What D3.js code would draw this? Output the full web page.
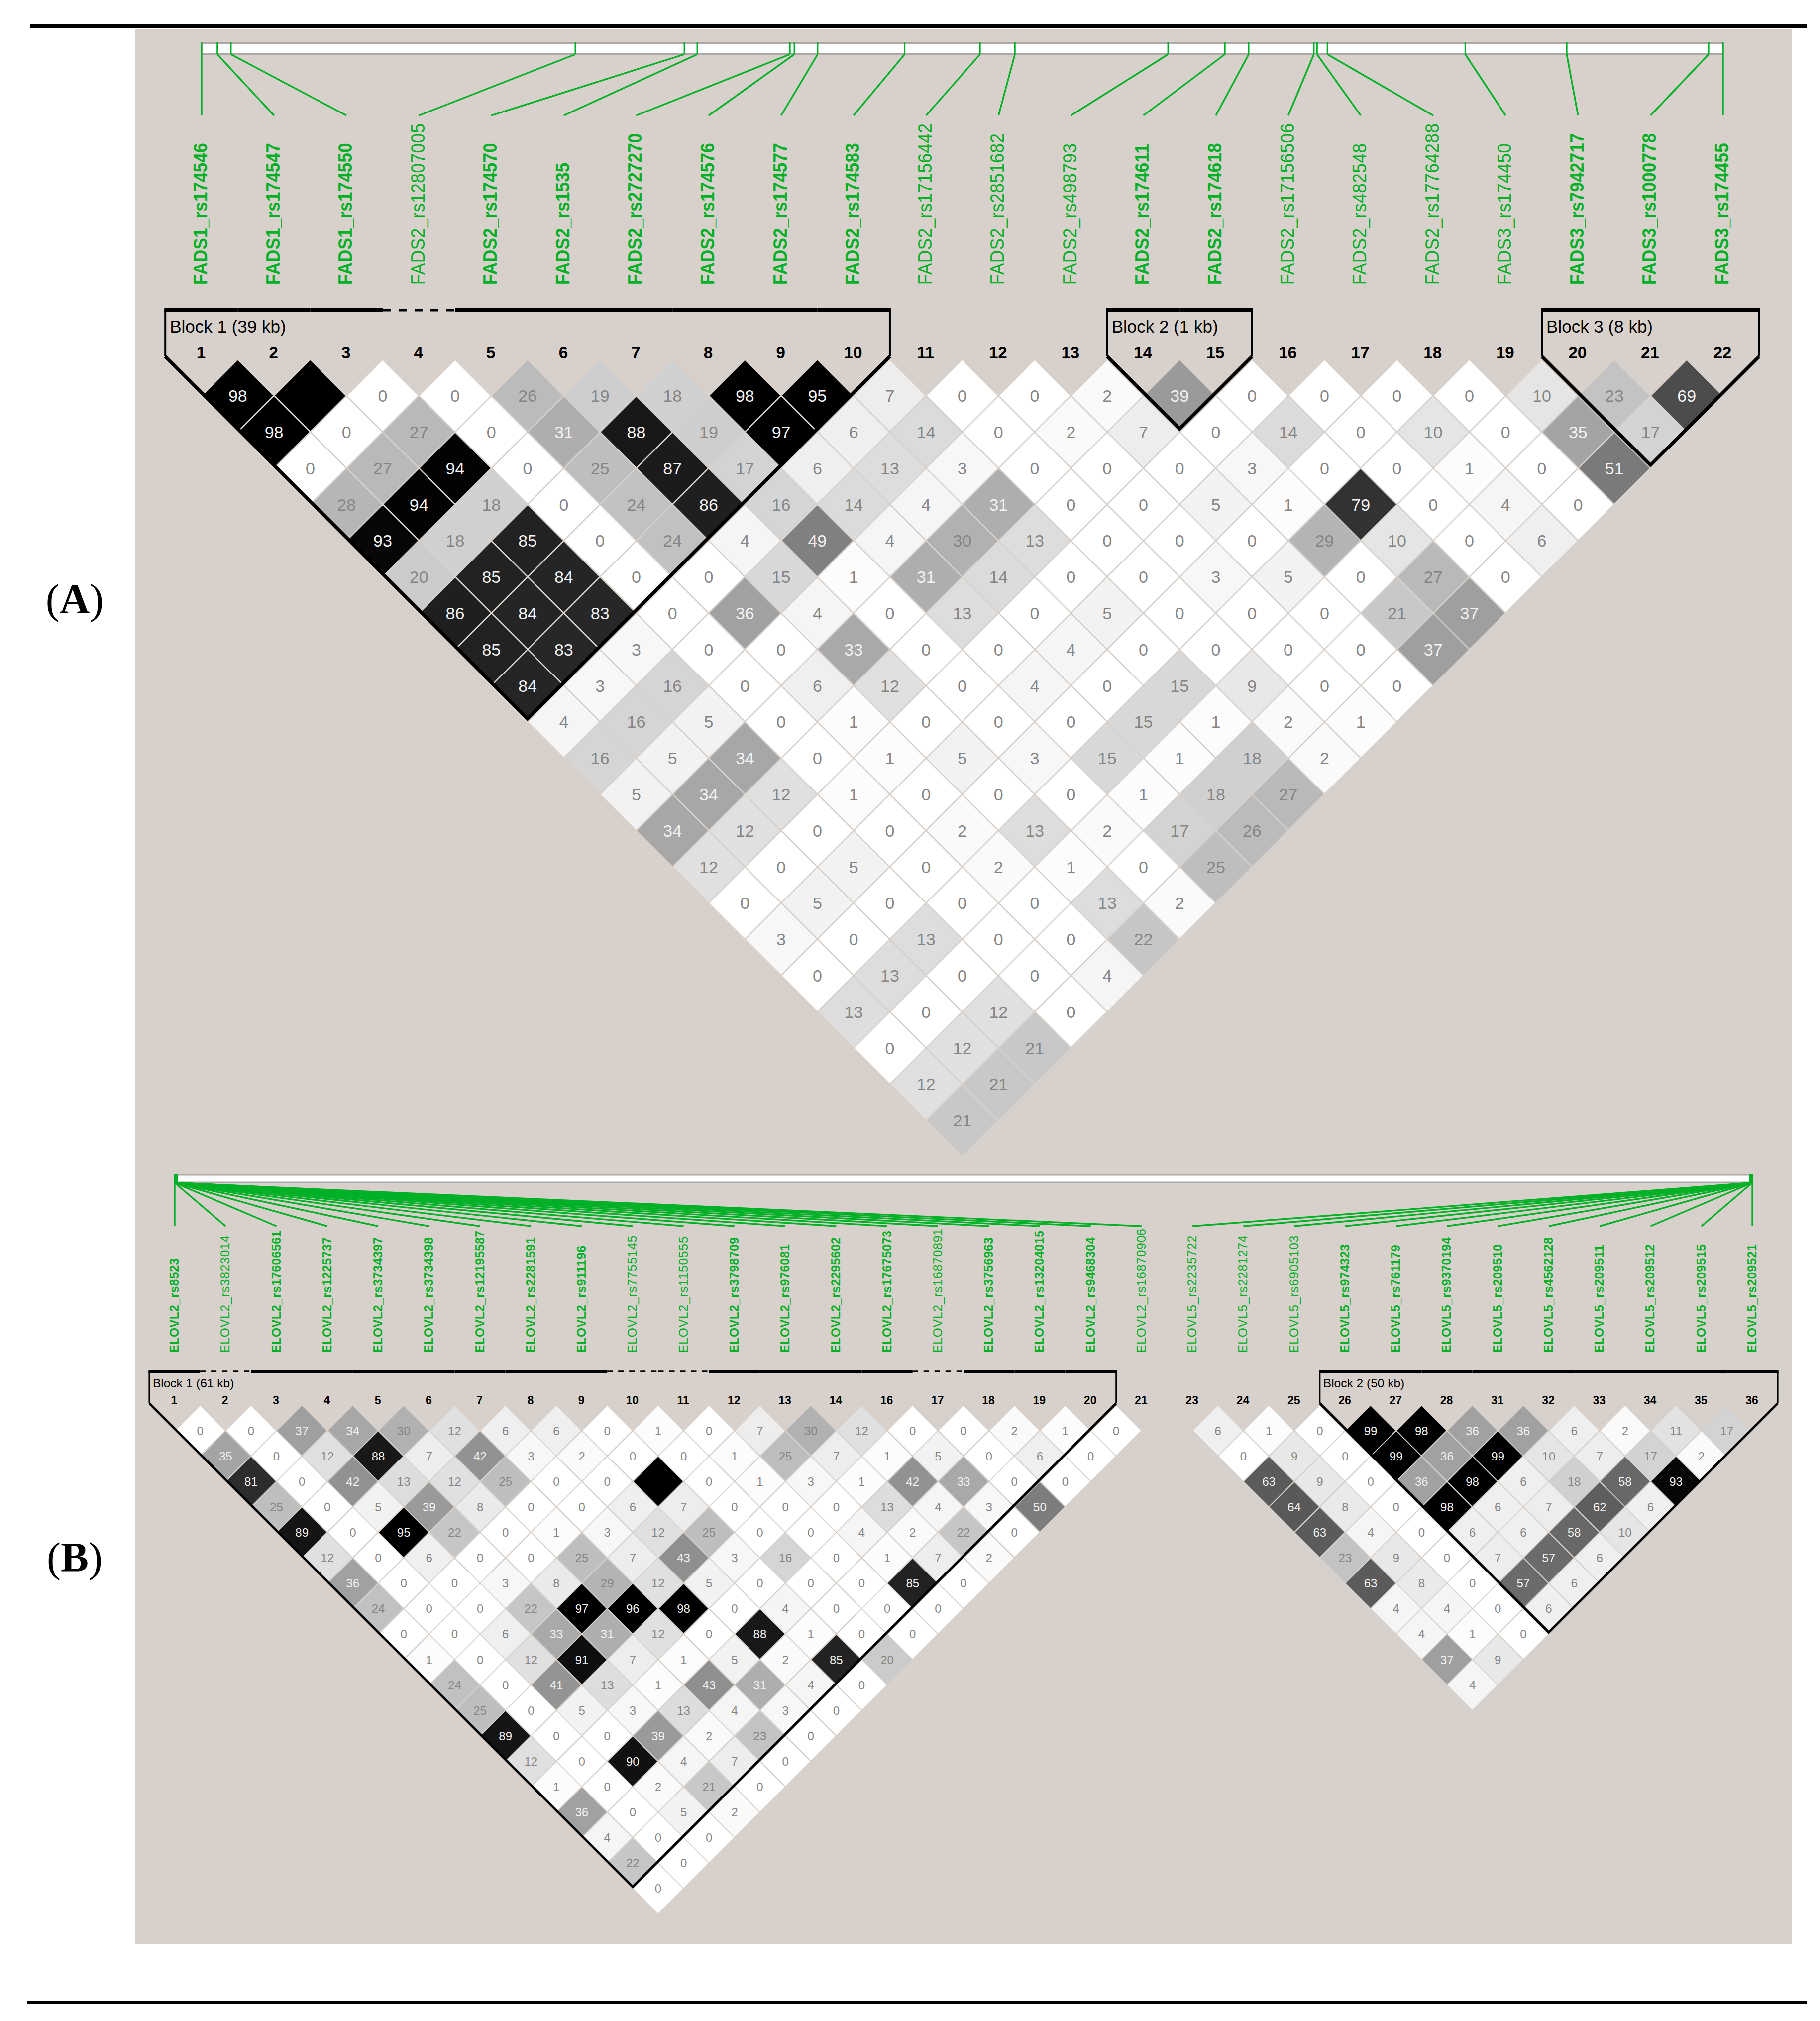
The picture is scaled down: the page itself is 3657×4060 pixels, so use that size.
<!DOCTYPE html>
<html>
<head>
<meta charset="utf-8">
<title>LD plots FADS and ELOVL</title>
<script src="https://cdn.jsdelivr.net/npm/d3@7/dist/d3.min.js"></script>
<style>
  html, body { margin: 0; padding: 0; background: #fff; }
  svg { display: block; }
  text { font-family: "Liberation Sans", Arial, sans-serif; }
</style>
</head>
<body>
<svg id="chart" width="3657" height="4060"></svg>
<script>
// Panel A data
const fadsMarkers = ['FADS1_rs174546', 'FADS1_rs174547', 'FADS1_rs174550', 'FADS2_rs12807005', 'FADS2_rs174570', 'FADS2_rs1535',
  'FADS2_rs2727270', 'FADS2_rs174576', 'FADS2_rs174577', 'FADS2_rs174583', 'FADS2_rs17156442', 'FADS2_rs2851682', 'FADS2_rs498793',
  'FADS2_rs174611', 'FADS2_rs174618', 'FADS2_rs17156506', 'FADS2_rs482548', 'FADS2_rs17764288', 'FADS3_rs174450', 'FADS3_rs7942717',
  'FADS3_rs1000778', 'FADS3_rs174455'];
const fadsNumbers = [1, 2, 3, 4, 5, 6, 7, 8, 9, 10, 11, 12, 13, 14, 15, 16, 17, 18, 19, 20, 21, 22];
const fadsPlain = [4, 11, 12, 13, 16, 17, 18, 19]; // not bold, not tagged
const fadsMap = [0, 1.0, 1.86, 23.69, 30.6, 31.42, 37.29, 37.57, 39.05, 44.56, 49.34, 51.55, 61.26, 64.86, 66.37, 70.5, 70.7, 71.36,
  80.1, 86.53, 95.52, 96.43];
const fadsBlocks = [
  { label: 'Block 1 (39 kb)', from: 1, to: 10 },
  { label: 'Block 2 (1 kb)', from: 14, to: 15 },
  { label: 'Block 3 (8 kb)', from: 20, to: 22 }
];
// one row per marker distance, left to right
const fadsLD = [
  [98, 100, 0, 0, 26, 19, 18, 98, 95, 7, 0, 0, 2, 39, 0, 0, 0, 0, 10, 23, 69],
  [98, 0, 27, 0, 31, 88, 19, 97, 6, 14, 0, 2, 7, 0, 14, 0, 10, 0, 35, 17],
  [0, 27, 94, 0, 25, 87, 17, 6, 13, 3, 0, 0, 0, 3, 0, 0, 1, 0, 51],
  [28, 94, 18, 0, 24, 86, 16, 14, 4, 31, 0, 0, 5, 1, 79, 0, 4, 0],
  [93, 18, 85, 0, 24, 4, 49, 4, 30, 13, 0, 0, 0, 29, 10, 0, 6],
  [20, 85, 84, 0, 0, 15, 1, 31, 14, 0, 0, 3, 5, 0, 27, 0],
  [86, 84, 83, 0, 36, 4, 0, 13, 0, 5, 0, 0, 0, 21, 37],
  [85, 83, 3, 0, 0, 33, 0, 0, 4, 0, 0, 0, 0, 37],
  [84, 3, 16, 0, 6, 12, 0, 4, 0, 15, 9, 0, 0],
  [4, 16, 5, 0, 1, 0, 0, 0, 15, 1, 2, 1],
  [16, 5, 34, 0, 1, 5, 3, 15, 1, 18, 2],
  [5, 34, 12, 1, 0, 0, 0, 1, 18, 27],
  [34, 12, 0, 0, 2, 13, 2, 17, 26],
  [12, 0, 5, 0, 2, 1, 0, 25],
  [0, 5, 0, 0, 0, 13, 2],
  [3, 0, 13, 0, 0, 22],
  [0, 13, 0, 0, 4],
  [13, 0, 12, 0],
  [0, 12, 21],
  [12, 21],
  [21]
];

// Panel B data
const elovlMarkers = ['ELOVL2_rs8523', 'ELOVL2_rs3823014', 'ELOVL2_rs17606561', 'ELOVL2_rs1225737', 'ELOVL2_rs3734397', 'ELOVL2_rs3734398',
  'ELOVL2_rs12195587', 'ELOVL2_rs2281591', 'ELOVL2_rs911196', 'ELOVL2_rs7755145', 'ELOVL2_rs1150555', 'ELOVL2_rs3798709', 'ELOVL2_rs976081',
  'ELOVL2_rs2295602', 'ELOVL2_rs17675073', 'ELOVL2_rs16870891', 'ELOVL2_rs3756963', 'ELOVL2_rs13204015', 'ELOVL2_rs9468304', 'ELOVL2_rs16870906',
  'ELOVL5_rs2235722', 'ELOVL5_rs2281274', 'ELOVL5_rs6905103', 'ELOVL5_rs974323', 'ELOVL5_rs761179', 'ELOVL5_rs9370194', 'ELOVL5_rs209510',
  'ELOVL5_rs4562128', 'ELOVL5_rs209511', 'ELOVL5_rs209512', 'ELOVL5_rs209515', 'ELOVL5_rs209521'];
const elovlNumbers = [1, 2, 3, 4, 5, 6, 7, 8, 9, 10, 11, 12, 13, 14, 16, 17, 18, 19, 20, 21, 23, 24, 25, 26, 27, 28, 31, 32, 33, 34, 35, 36];
const elovlPlain = [2, 10, 11, 17, 21, 23, 24, 25];
// both genes sit about 42 Mb apart so the ticks bunch up at the ends of the bar
const elovlMap = [0, 3, 6, 9, 13, 16, 20, 23, 27, 30, 33, 37, 40, 44, 47, 50, 53, 56, 58, 61,
  41940, 41945, 41950, 41956, 41962, 41968, 41973, 41979, 41985, 41990, 41995, 42000];
const elovlBlocks = [
  { label: 'Block 1 (61 kb)', from: 1, to: 20 },
  { label: 'Block 2 (50 kb)', from: 26, to: 36 }
];
const elovl2LD = [
  [0, 0, 37, 34, 30, 12, 6, 6, 0, 1, 0, 7, 30, 12, 0, 0, 2, 1, 0],
  [35, 0, 12, 88, 7, 42, 3, 2, 0, 0, 1, 25, 7, 1, 5, 0, 6, 0],
  [81, 0, 42, 13, 12, 25, 0, 0, 100, 0, 1, 3, 1, 42, 33, 0, 0],
  [25, 0, 5, 39, 8, 0, 0, 6, 7, 0, 0, 0, 13, 4, 3, 50],
  [89, 0, 95, 22, 0, 1, 3, 12, 25, 0, 0, 4, 2, 22, 0],
  [12, 0, 6, 0, 0, 25, 7, 43, 3, 16, 0, 1, 7, 2],
  [36, 0, 0, 3, 8, 29, 12, 5, 0, 0, 0, 85, 0],
  [24, 0, 0, 22, 97, 96, 98, 0, 4, 0, 0, 0],
  [0, 0, 6, 33, 31, 12, 0, 88, 1, 0, 0],
  [1, 0, 12, 91, 7, 1, 5, 2, 85, 20],
  [24, 0, 41, 13, 1, 43, 31, 4, 0],
  [25, 0, 5, 3, 13, 4, 3, 0],
  [89, 0, 0, 39, 2, 23, 0],
  [12, 0, 90, 4, 7, 0],
  [1, 0, 2, 21, 0],
  [36, 0, 5, 2],
  [4, 0, 0],
  [22, 0],
  [0]
];
const elovl5LD = [
  [6, 1, 0, 99, 98, 36, 36, 6, 2, 11, 17],
  [0, 9, 0, 99, 36, 99, 10, 7, 17, 2],
  [63, 9, 0, 36, 98, 6, 18, 58, 93],
  [64, 8, 0, 98, 6, 7, 62, 6],
  [63, 4, 0, 6, 6, 58, 10],
  [23, 9, 0, 7, 57, 6],
  [63, 8, 0, 57, 6],
  [4, 4, 0, 6],
  [4, 1, 0],
  [37, 9],
  [4]
];

const svg = d3.select('#chart');
const bgColor = '#d8d1cb';
const green = '#00b026';
const ldGray = d3.scaleLinear().domain([0, 85, 95, 100]).range([255, 34, 0, 0]).clamp(true);

// page furniture
svg.append('rect').attr('x', 271).attr('y', 58).attr('width', 3329).attr('height', 3848).attr('fill', bgColor);
svg.append('rect').attr('x', 60).attr('y', 49).attr('width', 3570).attr('height', 8).attr('fill', '#000');
svg.append('rect').attr('x', 54).attr('y', 4019).attr('width', 3576).attr('height', 7).attr('fill', '#000');

function panelLabel(letter, y) {
  const t = svg.append('text').attr('x', 150).attr('y', y).attr('text-anchor', 'middle')
    .style('font-family', '"Liberation Serif", serif').style('font-size', '84px');
  t.append('tspan').text('(');
  t.append('tspan').style('font-weight', 'bold').text(letter);
  t.append('tspan').text(')');
}
panelLabel('A', 1232);
panelLabel('B', 3157);

// gene map bar on top, with a tick per marker and a line down to its label
function drawMap(o) {
  const g = svg.append('g');
  const mapX = d3.scaleLinear().domain(o.mapDomain).range([o.x0, o.x1]);
  g.append('rect').attr('x', o.x0).attr('y', o.barTop).attr('width', o.x1 - o.x0).attr('height', o.barBottom - o.barTop)
    .attr('fill', '#fff').attr('stroke', '#aca8a5').attr('stroke-width', o.barStroke);
  g.selectAll('.tick').data(o.map).enter().append('line').attr('class', 'tick')
    .attr('x1', d => mapX(d)).attr('x2', d => mapX(d))
    .attr('y1', o.barTop - 1).attr('y2', o.barBottom + 1)
    .attr('stroke', green).attr('stroke-width', 3);
  g.selectAll('.lead').data(o.map).enter().append('line').attr('class', 'lead')
    .attr('x1', d => mapX(d)).attr('y1', o.barBottom + 1)
    .attr('x2', (d, i) => o.x(i)).attr('y2', o.leadEnd)
    .attr('stroke', green).attr('stroke-width', 3.4);
}

function drawLabels(o) {
  svg.append('g').selectAll('text').data(o.markers).enter().append('text')
    .attr('transform', (d, i) => 'translate(' + (o.x(i) + o.labelShift) + ',' + o.labelBase + ') rotate(-90) scale(1,' + o.labelStretch + ')')
    .attr('fill', green)
    .style('font-size', o.labelSize + 'px')
    .style('font-weight', (d, i) => o.plain.includes(o.numbers[i]) ? 'normal' : 'bold')
    .style('letter-spacing', (d, i) => (o.plain.includes(o.numbers[i]) ? o.plainSpacing : o.boldSpacing) + 'px')
    .text(d => d);

  svg.append('g').selectAll('text').data(o.numbers).enter().append('text')
    .attr('x', (d, i) => o.x(i) - 1).attr('y', o.numberY)
    .attr('text-anchor', 'middle').attr('dy', '.36em')
    .attr('fill', '#000')
    .style('font-size', o.numberSize + 'px').style('font-weight', 'bold')
    .text(d => d);
}

// triangle of diamonds, start = index of the first marker of the triangle
function drawTriangle(o, rows, start) {
  const rowY = d3.scaleLinear().domain([1, 2]).range([o.firstRow, o.firstRow + o.w]);
  const cells = [];
  rows.forEach((row, r) => {
    row.forEach((v, i) => {
      cells.push({ a: start + i, b: start + i + r + 1, d: r + 1, v: v });
    });
  });
  const g = svg.append('g').selectAll('g').data(cells).enter().append('g')
    .attr('transform', d => 'translate(' + (o.x(d.a) + o.x(d.b)) / 2 + ',' + rowY(d.d) + ')');
  g.append('path')
    .attr('d', 'M0,' + (-o.w) + 'L' + o.w + ',0L0,' + o.w + 'L' + (-o.w) + ',0Z')
    .attr('fill', d => { const c = Math.round(ldGray(d.v)); return d3.rgb(c, c, c); })
    .attr('stroke', bgColor).attr('stroke-width', o.cellStroke);
  g.filter(d => d.v < 100).append('text')
    .attr('text-anchor', 'middle').attr('dy', '.36em')
    .attr('fill', d => d.v > 30 ? '#f2f2f2' : '#858585')
    .style('font-size', o.cellFont + 'px')
    .text(d => d.v);
}

function drawBlocks(o) {
  const g = svg.append('g');
  o.blocks.forEach(b => {
    const ia = o.numbers.indexOf(b.from);
    const ib = o.numbers.indexOf(b.to);
    const left = o.x(ia) - o.w;
    const right = o.x(ib) + o.w;
    const apex = o.shoulder + (right - left) / 2;
    g.append('path').attr('fill', 'none').attr('stroke', '#000').attr('stroke-width', o.sideStroke)
      .attr('d', 'M' + left + ',' + o.blockTop + 'V' + o.shoulder + ' M' + right + ',' + o.blockTop + 'V' + o.shoulder);
    g.append('path').attr('fill', 'none').attr('stroke', '#000').attr('stroke-width', o.diagStroke)
      .attr('d', 'M' + left + ',' + o.shoulder + 'L' + (left + right) / 2 + ',' + apex + 'L' + right + ',' + o.shoulder);
    // top edge goes dashed over the markers that were left out
    d3.range(ia, ib + 1).forEach(i => {
      const isPlain = o.plain.includes(o.numbers[i]);
      g.append('line')
        .attr('x1', o.x(i) - o.w - (i === ia ? o.sideStroke / 2 : 0)).attr('x2', o.x(i) + o.w + (i === ib ? o.sideStroke / 2 : 0))
        .attr('y1', o.blockTop).attr('y2', o.blockTop)
        .attr('stroke', '#000')
        .attr('stroke-width', isPlain ? o.topStroke * 0.6 : o.topStroke)
        .attr('stroke-dasharray', isPlain ? o.dash : null);
    });
    g.append('text').attr('x', left + o.blockLabelDx).attr('y', o.blockLabelY)
      .attr('fill', '#000').style('font-size', o.blockLabelSize + 'px')
      .text(b.label);
  });
}

// Panel A
const xA = d3.scaleLinear().domain([0, fadsMarkers.length - 1]).range([405, 3462]);
const panelA = {
  x: xA, x0: 405, x1: 3462, w: 72.8,
  markers: fadsMarkers, numbers: fadsNumbers, plain: fadsPlain, map: fadsMap, mapDomain: [0, 96.43], blocks: fadsBlocks,
  barTop: 86, barBottom: 108, barStroke: 4, leadEnd: 232,
  labelSize: 35, labelShift: 11, labelBase: 572, labelStretch: 1.12, plainSpacing: 0.6, boldSpacing: 0.2,
  numberY: 708, numberSize: 33,
  firstRow: 795, cellFont: 34, cellStroke: 2.5,
  blockTop: 623, shoulder: 716, topStroke: 8, sideStroke: 4, diagStroke: 7, dash: '16,16',
  blockLabelDx: 9, blockLabelY: 668, blockLabelSize: 35
};
drawMap(panelA);
drawLabels(panelA);
drawTriangle(panelA, fadsLD, 0);
drawBlocks(panelA);

// Panel B
const xB = d3.scaleLinear().domain([0, elovlMarkers.length - 1]).range([351, 3521]);
const panelB = {
  x: xB, x0: 351, x1: 3521, w: 51.1,
  markers: elovlMarkers, numbers: elovlNumbers, plain: elovlPlain, map: elovlMap, mapDomain: [0, 42000], blocks: elovlBlocks,
  barTop: 2360, barBottom: 2375, barStroke: 3, leadEnd: 2463,
  labelSize: 24.5, labelShift: 8, labelBase: 2718, labelStretch: 1.08, plainSpacing: 0.9, boldSpacing: 0.3,
  numberY: 2813, numberSize: 23,
  firstRow: 2874, cellFont: 24, cellStroke: 2,
  blockTop: 2755, shoulder: 2819, topStroke: 6, sideStroke: 3, diagStroke: 5, dash: '11,11',
  blockLabelDx: 7, blockLabelY: 2787, blockLabelSize: 24.5
};
drawMap(panelB);
drawLabels(panelB);
drawTriangle(panelB, elovl2LD, 0);
drawTriangle(panelB, elovl5LD, 20);
drawBlocks(panelB);
</script>
</body>
</html>
